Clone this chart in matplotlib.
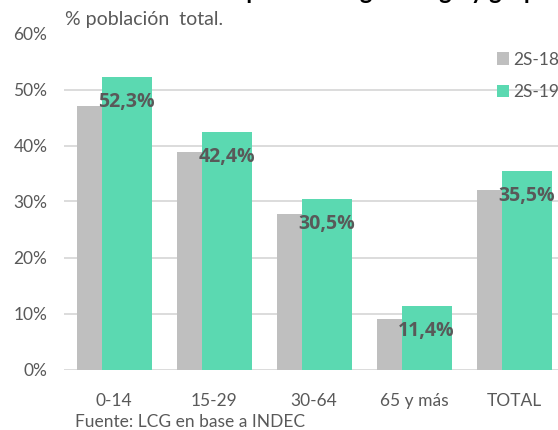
import numpy as np
import matplotlib.pyplot as plt
from matplotlib.ticker import FuncFormatter

plt.rcParams['font.family'] = ['Lato', 'DejaVu Sans']

# pobreza por grupo de edad, % de la población
categorias = ['0-14', '15-29', '30-64', '65 y más', 'TOTAL']
s2_18 = [47.1, 38.8, 27.7, 9.0, 32.1]
s2_19 = [52.3, 42.4, 30.5, 11.4, 35.5]
series = ['2S-18', '2S-19']

GRIS = '#BFBFBF'
VERDE = '#5BD9B1'
TEXTO = '#595959'

W, H = 558, 430
fig = plt.figure(figsize=(W / 100, H / 100), dpi=100)
ax = fig.add_axes([64 / W, 60.5 / H, 500 / W, 336 / H])

x = np.arange(len(categorias))
ax.bar(x - 0.125, np.array(s2_18) / 100, width=0.5, color=GRIS, label=series[0], zorder=2)
ax.bar(x + 0.125, np.array(s2_19) / 100, width=0.5, color=VERDE, label=series[1], zorder=3)

for xi, v in zip(x, s2_19):
    ax.annotate(f'{v:.1f}%'.replace('.', ','), xy=(xi + 0.125, v / 100),
                xytext=(0, -25), textcoords='offset pixels',
                ha='center', va='center', fontsize=14, fontweight='bold',
                family=['Open Sans', 'DejaVu Sans'], color=TEXTO, zorder=4)

ax.set_xlim(-0.5, len(categorias) - 0.5)
ax.set_ylim(0, 0.6)
ax.set_yticks(np.arange(0, 0.61, 0.1))
ax.yaxis.set_major_formatter(FuncFormatter(lambda v, _: f'{v * 100:.0f}%'))
ax.set_xticks(x)
ax.set_xticklabels(categorias)
ax.tick_params(axis='both', length=0, labelsize=12.5, labelcolor=TEXTO)
ax.tick_params(axis='y', pad=12)
ax.tick_params(axis='x', pad=17)
ax.grid(axis='y', color='#D9D9D9', linewidth=1.3, zorder=0)
ax.set_axisbelow(True)
for s in ax.spines.values():
    s.set_visible(False)

ax.legend(loc='upper left', bbox_to_anchor=(481 / W, 1 - 36 / H),
          bbox_transform=fig.transFigure, frameon=False,
          handlelength=0.7, handleheight=0.7, handletextpad=0.25,
          labelspacing=0.95, fontsize=12.5, labelcolor=TEXTO)

fig.text(160 / W, 1 + 1 / H, 'Tasa de pobreza según rango y grupo',
         fontsize=17, fontweight='bold', color='black', va='baseline')
fig.text(65 / W, 1 - 20 / H, '% población  total.', fontsize=14,
         color=TEXTO, va='center')
fig.text(75 / W, 3 / H, 'Fuente: LCG en base a INDEC', fontsize=12.5,
         color=TEXTO, va='baseline')

fig.savefig('out.png', dpi=100)
